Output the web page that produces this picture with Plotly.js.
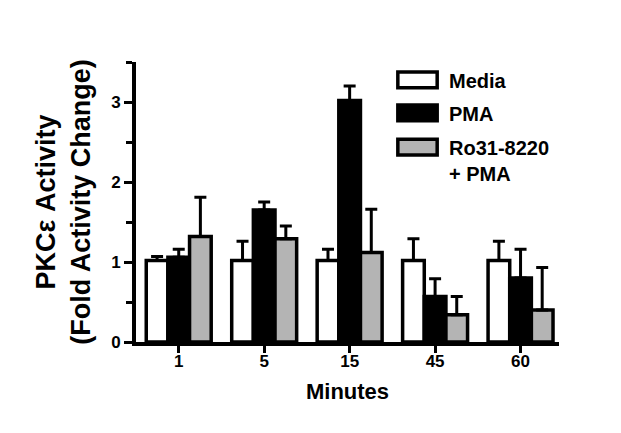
<!DOCTYPE html>
<html>
<head>
<meta charset="utf-8">
<script src="https://cdn.plot.ly/plotly-3.0.1.min.js"></script>
<style>
  html, body { margin: 0; padding: 0; background: #fff; }
  #chart { width: 621px; height: 433px; }
</style>
</head>
<body>
<div id="chart"></div>
<script>
// time points (minutes)
var minutes = ['1', '5', '15', '45', '60'];

// series names
var seriesNames = ['Media', 'PMA', 'Ro31-8220<br>+ PMA'];

// fold activity change, mean and SEM (upper bar only)
var media = [1.02, 1.02, 1.02, 1.02, 1.02];
var mediaErr = [0.05, 0.24, 0.14, 0.27, 0.24];
var pma = [1.06, 1.65, 3.02, 0.57, 0.80];
var pmaErr = [0.10, 0.10, 0.18, 0.22, 0.36];
var ro = [1.32, 1.29, 1.12, 0.34, 0.40];
var roErr = [0.49, 0.16, 0.54, 0.23, 0.53];

var fills = ['#ffffff', '#000000', '#b4b4b4'];

function barTrace(name, y, err, fill) {
  return {
    type: 'bar',
    name: name,
    x: minutes,
    y: y,
    marker: { color: fill, line: { color: '#000', width: 3.5 } },
    error_y: {
      type: 'data', symmetric: false,
      array: err, arrayminus: y.map(function () { return 0; }),
      color: '#000', thickness: 3, width: 6
    },
    showlegend: false,
    hoverinfo: 'y'
  };
}

var data = [
  barTrace(seriesNames[0], media, mediaErr, fills[0]),
  barTrace(seriesNames[1], pma, pmaErr, fills[1]),
  barTrace(seriesNames[2], ro, roErr, fills[2])
];

// hand drawn legend, boxes like the original figure
var legendY = [0.936, 0.818, 0.696];
var shapes = [];
var annotations = [];
for (var i = 0; i < seriesNames.length; i++) {
  shapes.push({
    type: 'rect', xref: 'paper', yref: 'paper',
    x0: 0.619, x1: 0.712,
    y0: legendY[i] - 0.028, y1: legendY[i] + 0.028,
    fillcolor: fills[i], line: { color: '#000', width: 3.5 }
  });
  annotations.push({
    xref: 'paper', yref: 'paper',
    x: 0.735, y: legendY[i] + 0.043,
    xanchor: 'left', yanchor: 'top', align: 'left',
    text: '<b>' + seriesNames[i].replace('<br>', '</b><br><b>') + '</b>',
    showarrow: false,
    font: { family: 'Arial', size: 20, color: '#000' }
  });
}

var layout = {
  width: 621,
  height: 433,
  margin: { l: 136, r: 62, t: 62, b: 91 },
  paper_bgcolor: '#fff',
  plot_bgcolor: '#fff',
  bargap: 0.24,
  bargroupgap: 0,
  barmode: 'group',
  font: { family: 'Arial', color: '#000' },
  xaxis: {
    type: 'category',
    range: [-0.5, 4.45],
    showline: true, linecolor: '#000', linewidth: 4,
    ticks: 'outside', ticklen: 7, tickwidth: 3, tickcolor: '#000',
    ticklabelstandoff: -6,
    showgrid: false, zeroline: false,
    tickfont: { family: 'Arial', size: 17, color: '#000', weight: 'bold' },
    title: { text: '<b>Minutes</b>', font: { family: 'Arial', size: 22, color: '#000' }, standoff: 14 }
  },
  yaxis: {
    range: [0, 3.5],
    dtick: 1,
    showline: true, linecolor: '#000', linewidth: 4,
    ticks: 'outside', ticklen: 8, tickwidth: 3, tickcolor: '#000',
    minor: { dtick: 0.5, ticks: 'outside', ticklen: 6, tickwidth: 3, tickcolor: '#000' },
    showgrid: false, zeroline: false,
    tickfont: { family: 'Arial', size: 17, color: '#000', weight: 'bold' },
    title: { text: '<b>PKC\u03b5 Activity</b><br><b>(Fold Activity Change)</b>', font: { family: 'Arial', size: 27, color: '#000' }, standoff: 14 }
  },
  shapes: shapes,
  annotations: annotations
};

Plotly.newPlot('chart', data, layout, { displayModeBar: false, staticPlot: true });
</script>
</body>
</html>
